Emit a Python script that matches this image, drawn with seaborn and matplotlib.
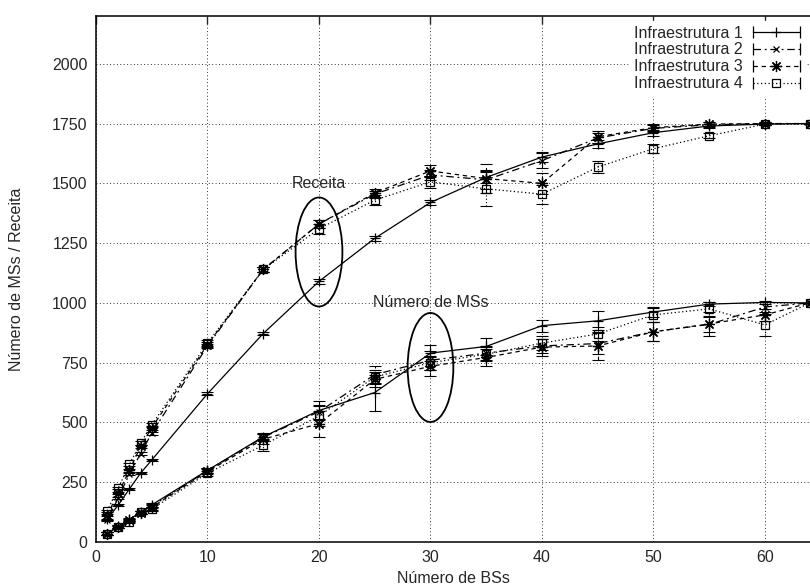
import numpy as np
import pandas as pd
import matplotlib
matplotlib.use("Agg")
import matplotlib.pyplot as plt
import seaborn as sns
from matplotlib.lines import Line2D
from matplotlib.patches import Ellipse
from matplotlib.legend_handler import HandlerLine2D, HandlerTuple

# Data
bs = [1, 2, 3, 4, 5, 10, 15, 20, 25, 30, 35, 40, 45, 50, 55, 60, 64]

receita_1 = [95, 155, 222, 288, 343, 620, 872, 1090, 1270, 1420, 1525, 1610, 1665, 1712, 1740, 1748, 1750]
receita_2 = [90, 185, 285, 370, 455, 820, 1140, 1330, 1455, 1535, 1515, 1595, 1690, 1730, 1745, 1750, 1750]
receita_3 = [113, 205, 300, 400, 478, 825, 1140, 1330, 1460, 1552, 1520, 1500, 1695, 1733, 1748, 1750, 1750]
receita_4 = [130, 226, 325, 414, 490, 832, 1140, 1310, 1430, 1506, 1477, 1455, 1568, 1645, 1699, 1748, 1750]

ms_1 = [35, 65, 95, 125, 155, 300, 440, 550, 625, 790, 818, 905, 925, 962, 995, 1002, 1000]
ms_2 = [35, 65, 92, 125, 150, 298, 438, 545, 700, 760, 790, 820, 830, 880, 910, 983, 1000]
ms_3 = [35, 62, 90, 122, 145, 295, 430, 495, 680, 735, 772, 815, 820, 879, 912, 950, 1000]
ms_4 = [35, 62, 84, 125, 138, 288, 405, 527, 690, 750, 785, 832, 870, 950, 975, 908, 1000]

receita_err_1 = [3, 3, 4, 4, 5, 6, 8, 10, 10, 12, 25, 20, 15, 12, 8, 5, 0]
receita_err_2 = [4, 4, 5, 6, 6, 10, 10, 15, 15, 20, 40, 30, 20, 15, 10, 5, 0]
receita_err_3 = [4, 5, 6, 6, 8, 10, 10, 15, 15, 25, 60, 45, 25, 15, 10, 5, 0]
receita_err_4 = [5, 5, 6, 8, 8, 12, 12, 20, 20, 25, 70, 40, 25, 20, 10, 5, 0]

ms_err_1 = [5, 5, 5, 6, 8, 10, 15, 40, 75, 35, 35, 25, 40, 20, 10, 5, 0]
ms_err_2 = [5, 5, 5, 6, 8, 10, 15, 30, 35, 40, 30, 30, 45, 40, 30, 20, 0]
ms_err_3 = [5, 5, 5, 6, 10, 12, 20, 55, 30, 40, 35, 35, 60, 40, 50, 25, 0]
ms_err_4 = [5, 5, 5, 6, 10, 10, 25, 40, 30, 30, 30, 30, 30, 30, 30, 45, 0]

labels = ["Infraestrutura 1", "Infraestrutura 2", "Infraestrutura 3", "Infraestrutura 4"]

sns.set_style("white")
plt.rcParams['font.family'] = ['Liberation Sans', 'DejaVu Sans']
plt.rcParams['font.size'] = 11.5

fig = plt.figure(figsize=(8.1, 5.88), dpi=100)
ax = fig.add_axes([96 / 810, 46 / 588, 714 / 810, 526 / 588])

styles = [
    dict(linestyle='-', marker='+', markersize=7, markerfacecolor='none'),
    dict(linestyle=(0, (6, 3, 1.5, 3)), marker='x', markersize=5, markerfacecolor='none'),
    dict(linestyle=(0, (3.5, 3)), marker=(8, 2, 0), markersize=8, markerfacecolor='none'),
    dict(linestyle=(0, (1, 2)), marker='s', markersize=6, markerfacecolor='none'),
]

receitas = [receita_1, receita_2, receita_3, receita_4]
mss = [ms_1, ms_2, ms_3, ms_4]
receita_errs = [receita_err_1, receita_err_2, receita_err_3, receita_err_4]
ms_errs = [ms_err_1, ms_err_2, ms_err_3, ms_err_4]

for i in range(4):
    for vals, errs in [(receitas[i], receita_errs[i]), (mss[i], ms_errs[i])]:
        df = pd.DataFrame({"bs": bs, "val": vals})
        sns.lineplot(data=df, x="bs", y="val", ax=ax, color='k', linewidth=0.9,
                     markeredgecolor='k', markeredgewidth=0.9, **styles[i])
        eb = ax.errorbar(bs, vals, yerr=errs, fmt='none', ecolor='k',
                         elinewidth=0.8, capsize=4, capthick=0.8)
        eb[2][0].set_linestyle(styles[i]['linestyle'])

# annotations
ax.add_patch(Ellipse((20, 1213), 4.2, 456, fill=False, edgecolor='k', linewidth=1.3, zorder=5))
ax.add_patch(Ellipse((30, 730), 4.1, 456, fill=False, edgecolor='k', linewidth=1.3, zorder=5))
ax.text(20, 1500, "Receita", ha='center', va='center', fontsize=11.5)
ax.text(30, 1000, "Número de MSs", ha='center', va='center', fontsize=11.5)

ax.set_xlim(0, 64.04)
ax.set_ylim(0, 2200)
ax.set_xticks(range(0, 61, 10))
ax.set_yticks(range(0, 2001, 250))
ax.grid(True, linestyle=(0, (1, 2.5)), color='k', linewidth=0.7, alpha=0.8)
ax.tick_params(direction='in', length=6, width=1, top=True, right=False, labelsize=11.5, pad=6)
for s in ['left', 'bottom', 'top']:
    ax.spines[s].set_linewidth(1.1)
    ax.spines[s].set_color('k')
ax.spines['right'].set_visible(False)

ax.set_xlabel("Número de BSs", fontsize=11.5, labelpad=4)
ax.set_ylabel("Número de MSs / Receita", fontsize=11.5, labelpad=20)

# legend: line with end caps plus marker in the middle
handles = []
handler_map = {}
for i in range(4):
    cap = Line2D([], [], color='k', linewidth=0.9, linestyle=styles[i]['linestyle'],
                 marker='|', markersize=8, markeredgewidth=0.9)
    mk = Line2D([], [], color='none', marker=styles[i]['marker'],
                markersize=styles[i]['markersize'], markerfacecolor='none',
                markeredgecolor='k', markeredgewidth=0.9)
    handler_map[cap] = HandlerLine2D(numpoints=2, marker_pad=0)
    handler_map[mk] = HandlerLine2D(numpoints=1)
    handles.append((cap, mk))
handler_map[tuple] = HandlerTuple(ndivide=1, pad=0)

leg = ax.legend(handles, labels, handler_map=handler_map, loc='upper right',
                bbox_to_anchor=(1.0, 1.0), markerfirst=False, frameon=True,
                fancybox=False, framealpha=1, edgecolor='white', facecolor='white',
                borderaxespad=0.3, borderpad=0.3, handlelength=3.0,
                handletextpad=0.6, labelspacing=0.12, fontsize=11.5)
leg.set_zorder(10)

fig.savefig("out.png", dpi=100)
